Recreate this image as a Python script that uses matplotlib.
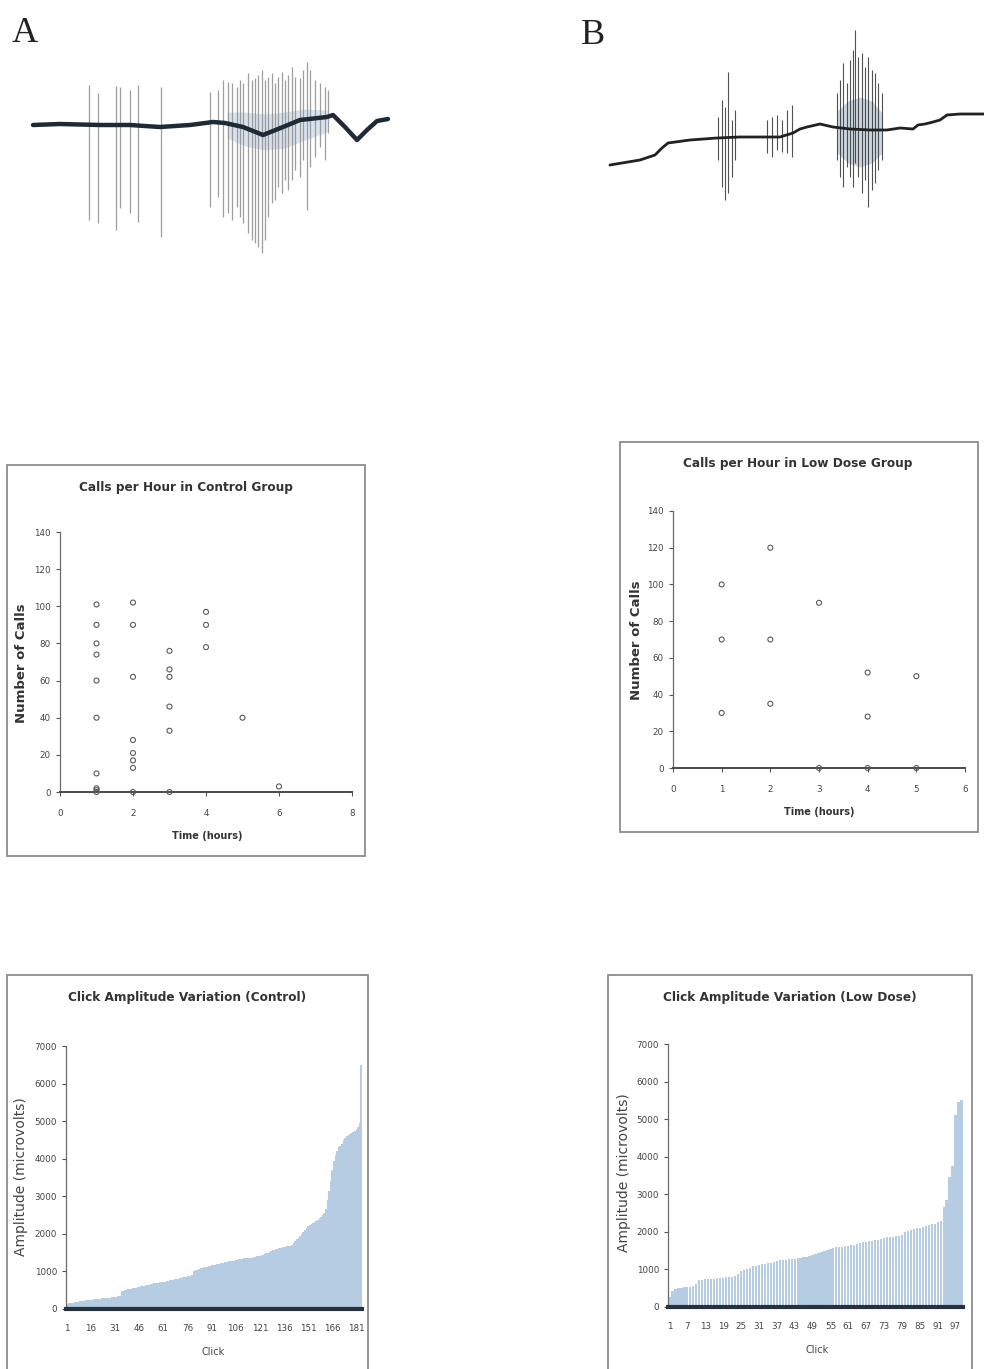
import matplotlib
matplotlib.use("Agg")
import matplotlib.pyplot as plt
from matplotlib.patches import Rectangle

# ---------------- data ----------------
# Trace A (control): baseline and clicks, time in samples, amplitude in arbitrary units
a_base_t = [3, 30, 70, 100, 130, 160, 183, 195, 213, 233, 253, 270, 297, 303, 315, 327, 337, 347, 358]
a_base_v = [-1, 0, -1, -1, -3, -1, 2, 1, -3, -11, -3, 4, 7, 9, -3, -16, -6, 3, 5]
a_click_t = [59, 68, 86, 90, 100, 108, 131,
             180, 188, 193, 198, 202, 207, 210, 213, 218, 222, 225, 228, 232, 235, 238, 242,
             245, 248, 252, 255, 258, 262, 265, 270, 273, 277, 280, 285, 290, 295, 298]
a_click_hi = [39, 31, 38, 37, 34, 39, 37,
              32, 34, 44, 42, 41, 37, 44, 41, 51, 44, 46, 49, 54, 44, 47, 51,
              41, 47, 52, 44, 49, 57, 47, 46, 54, 62, 54, 44, 41, 37, 34]
a_click_lo = [-96, -99, -106, -84, -89, -98, -113,
              -83, -73, -93, -89, -96, -83, -93, -99, -109, -116, -119, -123, -129, -116, -93, -79,
              -76, -63, -69, -56, -66, -56, -46, -53, -36, -86, -43, -33, -23, -36, -9]
a_haze_t = [197, 215, 235, 255, 275, 297]
a_haze_hi = [12, 12, 10, 12, 15, 14]
a_haze_lo = [-14, -22, -26, -24, -16, -8]

# Trace B (low dose)
b_base_t = [10, 40, 55, 62, 68, 90, 117, 140, 167, 180, 193, 200, 207, 220, 233, 250, 270, 287,
            300, 313, 318, 325, 333, 340, 347, 360, 384]
b_base_v = [-28, -23, -18, -11, -6, -3, -1, 0, 0, 0, 4, 8, 10, 13, 10, 8, 7, 7,
            9, 8, 12, 13, 15, 17, 22, 23, 23]
b_click_t = [118, 122, 125, 128, 132, 135,
             167, 172, 177, 182, 187, 192,
             237, 240, 243, 247, 250, 253, 255, 258, 262, 265, 268, 272, 275, 278, 282]
b_click_hi = [20, 37, 30, 65, 17, 27,
              17, 20, 22, 17, 27, 32,
              44, 57, 74, 54, 77, 87, 107, 80, 84, 70, 80, 67, 64, 54, 44]
b_click_lo = [-23, -50, -63, -56, -40, -23,
              -16, -20, -13, -15, -16, -20,
              -23, -40, -50, -30, -40, -50, -26, -40, -56, -43, -70, -53, -46, -33, -23]
b_haze_t = [237, 248, 260, 272, 282]
b_haze_hi = [26, 36, 40, 36, 24]
b_haze_lo = [-16, -26, -30, -26, -16]

# Calls per hour
ctrl_hours = [1] * 10 + [2] * 8 + [3] * 6 + [4] * 3 + [5, 6]
ctrl_calls = [101, 90, 80, 74, 60, 40, 10, 2, 1, 0,
              102, 90, 62, 28, 21, 17, 13, 0,
              76, 66, 62, 46, 33, 0,
              97, 90, 78,
              40, 3]
low_hours = [1, 1, 1, 2, 2, 2, 3, 3, 4, 4, 4, 5, 5]
low_calls = [100, 70, 30, 120, 70, 35, 90, 0, 52, 28, 0, 50, 0]

# Click amplitudes (microvolts), sorted ascending
ctrl_amp = [140, 150, 160, 165, 170, 175, 180, 190, 200, 210,
            220, 225, 230, 235, 240, 245, 250, 255, 260, 265, 270,
            275, 280, 285, 290, 295, 300, 305, 310, 315, 320, 330, 340, 350,
            480, 490, 500, 510, 520, 530, 540, 550, 560, 570, 580, 590, 600, 610,
            620, 630, 640, 650, 660, 670, 680, 690, 700, 705, 710, 715, 720, 730, 740,
            750, 760, 770, 780, 790, 800, 810, 820, 830, 840, 850, 860, 870, 880, 890, 900,
            1000, 1030, 1050, 1070,
            1090, 1100, 1110, 1120, 1130, 1140, 1150, 1160, 1170, 1180, 1190, 1200, 1210,
            1220, 1230, 1240, 1250, 1260, 1270, 1275, 1280,
            1290, 1300, 1310, 1320, 1330, 1340, 1345, 1350, 1355, 1360, 1365, 1370, 1380,
            1390, 1400, 1410, 1420, 1430, 1440, 1460, 1480,
            1500, 1520, 1540, 1560, 1580, 1600, 1610, 1620, 1630, 1640, 1650, 1660, 1670,
            1680, 1690, 1700,
            1750, 1800, 1850, 1900, 1950, 2000, 2050, 2100, 2150,
            2200, 2230, 2260, 2290, 2320, 2350, 2380, 2420,
            2460, 2500, 2550, 2650,
            2900, 3150, 3400, 3700, 3950, 4100,
            4200, 4300, 4350, 4400,
            4500, 4550, 4600, 4620, 4650, 4680, 4700,
            4750, 4800, 4850, 4950, 6500]
low_amp = [270,
           420, 480,
           500, 510, 520, 530, 540, 560, 600,
           720, 730, 735, 740, 745, 750, 760,
           780, 785, 790, 800, 810, 830, 880,
           950, 980, 1000, 1030,
           1080, 1100, 1120, 1140, 1150, 1160, 1180, 1200, 1220,
           1240, 1250, 1260, 1270, 1280, 1290, 1300, 1310, 1320, 1330, 1350, 1380, 1420,
           1450, 1470, 1490, 1510, 1540,
           1570, 1590, 1600, 1610, 1620, 1630, 1640, 1650, 1680,
           1700, 1720, 1740, 1750, 1760, 1780, 1790, 1810,
           1830, 1850, 1860, 1870, 1880, 1900, 1920,
           2000, 2030, 2060, 2080, 2100, 2110,
           2130, 2150, 2170, 2200, 2220, 2250, 2300,
           2650, 2850, 3450, 3750, 5100, 5450, 5500]
ctrl_clicks = list(range(1, len(ctrl_amp) + 1))
low_clicks = list(range(1, len(low_amp) + 1))

# ---------------- layout ----------------
W, H = 984, 1369
fig = plt.figure(figsize=(W / 100, H / 100), dpi=100)
fig.patch.set_facecolor("white")
plt.rcParams["font.family"] = ["DejaVu Sans"]


def px_axes(x0, y0, x1, y1):
    return fig.add_axes([x0 / W, 1 - y1 / H, (x1 - x0) / W, (y1 - y0) / H])


def frame(x0, y0, x1, y1):
    fig.patches.append(Rectangle((x0 / W, 1 - y1 / H), (x1 - x0) / W, (y1 - y0) / H,
                                 transform=fig.transFigure, fill=False,
                                 edgecolor="#8c8c8c", lw=1.3))


def ftext(x, y, s, **kw):
    fig.text(x / W, 1 - y / H, s, ha="center", va="center", **kw)


# ---------------- traces ----------------
axA = px_axes(30, 20, 390, 265)
axA.set_xlim(0, 360)
axA.set_ylim(-141, 104)
axA.axis("off")
axA.vlines(a_click_t, a_click_lo, a_click_hi, color="#8d8d8d", lw=0.9, alpha=0.85)
axA.fill_between(a_haze_t, a_haze_lo, a_haze_hi, color="#b9cde0", alpha=0.55, lw=0)
axA.plot(a_base_t, a_base_v, color="#1e2a35", lw=3.2, solid_capstyle="round")

axB = px_axes(600, 10, 984, 230)
axB.set_xlim(0, 384)
axB.set_ylim(-93, 127)
axB.axis("off")
axB.fill_between(b_haze_t, b_haze_lo, b_haze_hi, color="#6a88a6", alpha=0.35, lw=0)
axB.vlines(b_click_t, b_click_lo, b_click_hi, color="#333333", lw=0.8, alpha=0.85)
axB.plot(b_base_t, b_base_v, color="#222222", lw=2.0, solid_capstyle="round")

ftext(25, 33, "A", fontsize=26, family="Liberation Serif", color="#222222")
ftext(593, 35, "B", fontsize=26, family="Liberation Serif", color="#222222")

# ---------------- scatter plots ----------------
tick_kw = dict(labelsize=6.3, colors="#555555", labelcolor="#444444", length=3, width=0.8,
               direction="out")


def scatter_panel(rect, x, y, xmax, xstep):
    ax = px_axes(*rect)
    ax.scatter(x, y, s=13, facecolors="none", edgecolors="#5a5a5a", linewidths=0.8,
               clip_on=False, zorder=3)
    ax.set_xlim(0, xmax)
    ax.set_ylim(0, 140)
    ax.set_xticks(range(0, xmax + 1, xstep))
    ax.set_yticks(range(0, 141, 20))
    for s in ("top", "right"):
        ax.spines[s].set_visible(False)
    ax.spines["left"].set_color("#6a6a6a")
    ax.spines["left"].set_linewidth(0.9)
    ax.spines["bottom"].set_color("#4a4a4a")
    ax.spines["bottom"].set_linewidth(1.4)
    ax.tick_params(**tick_kw)
    ax.tick_params(axis="x", pad=9)
    ax.patch.set_alpha(0)
    return ax


title_kw = dict(fontsize=8.7, fontweight="bold", color="#333333")
rot_bold = dict(fontsize=9.5, fontweight="bold", color="#333333", rotation=90)
rot_plain = dict(fontsize=10, color="#444444", rotation=90)

frame(7, 465, 365, 856)
scatter_panel((60, 532, 352, 792), ctrl_hours, ctrl_calls, 8, 2)
ftext(186, 488, "Calls per Hour in Control Group", **title_kw)
ftext(22, 663, "Number of Calls", **rot_bold)
ftext(207, 836, "Time (hours)", fontsize=7, fontweight="bold", color="#333333")

frame(620, 442, 978, 832)
scatter_panel((673, 511, 965, 768), low_hours, low_calls, 6, 1)
ftext(798, 464, "Calls per Hour in Low Dose Group", **title_kw)
ftext(636, 640, "Number of Calls", **rot_bold)
ftext(819, 812, "Time (hours)", fontsize=7, fontweight="bold", color="#333333")

# ---------------- bar charts ----------------
bar_color = "#b5cce2"


def bar_panel(rect, clicks, amps, step, width):
    ax = px_axes(*rect)
    ax.bar(clicks, amps, width=width, color=bar_color, edgecolor="none")
    ax.set_xlim(0.5, len(clicks) + 0.5)
    ax.set_ylim(0, 7000)
    ax.set_yticks(range(0, 7001, 1000))
    ax.set_xticks(clicks[::step])
    for s in ("top", "right"):
        ax.spines[s].set_visible(False)
    ax.spines["left"].set_color("#6a6a6a")
    ax.spines["left"].set_linewidth(0.9)
    ax.spines["bottom"].set_color("#27323d")
    ax.spines["bottom"].set_linewidth(3.0)
    ax.tick_params(**tick_kw)
    ax.tick_params(axis="x", length=0, pad=11)
    ax.patch.set_alpha(0)
    return ax


frame(7, 975, 368, 1372)
bar_panel((66, 1046, 362, 1309), ctrl_clicks, ctrl_amp, 15, 1.0)
ftext(187, 998, "Click Amplitude Variation (Control)", **title_kw)
ftext(21, 1177, "Amplitude (microvolts)", **rot_plain)
ftext(213, 1352, "Click", fontsize=7, color="#444444")

frame(608, 975, 972, 1372)
bar_panel((668, 1044, 963, 1307), low_clicks, low_amp, 6, 0.75)
ftext(790, 998, "Click Amplitude Variation (Low Dose)", **title_kw)
ftext(624, 1173, "Amplitude (microvolts)", **rot_plain)
ftext(817, 1350, "Click", fontsize=7, color="#444444")

fig.savefig("out.png", dpi=100)
